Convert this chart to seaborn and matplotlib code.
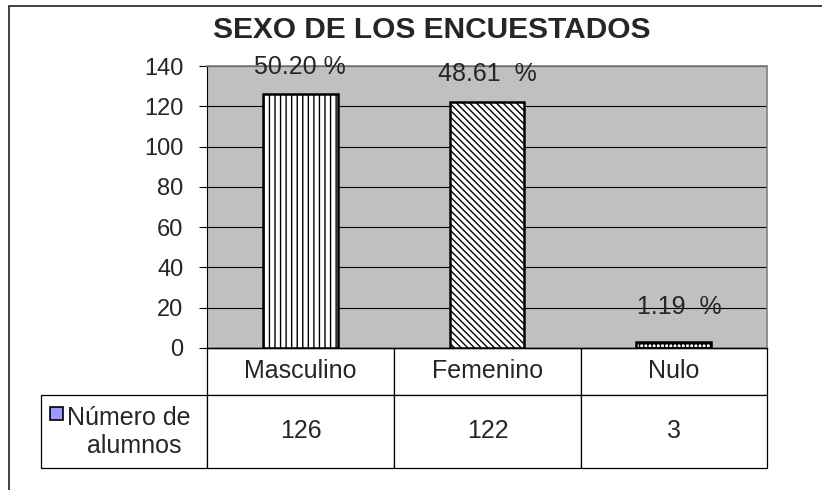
"""plot.py - SEXO DE LOS ENCUESTADOS (bar chart with data table)"""

import matplotlib
matplotlib.use("Agg")
import matplotlib.pyplot as plt
from matplotlib.patches import Rectangle
import seaborn as sns

# data
CATEGORIES = ["Masculino", "Femenino", "Nulo"]
COUNTS = [126, 122, 3]
PERCENT_LABELS = ["50.20 %", "48.61  %", "1.19  %"]
LABEL_Y = [139.5, 136, 20.5]
LABEL_DX = [0, 0, 6]  # px nudges, like the hand-moved Excel labels
SERIES_NAME = ["Número de", "alumnos"]
Y_TICKS = [0, 20, 40, 60, 80, 100, 120, 140]

HATCHES = ["|||", "\\\\\\\\\\", "++++"]

sns.set_style("white")
plt.rcParams["font.family"] = ["Liberation Sans", "DejaVu Sans"]
plt.rcParams["hatch.linewidth"] = 1.0

W, H = 822, 490
fig = plt.figure(figsize=(W / 100, H / 100), dpi=100)
fig.patch.set_facecolor("white")

# plot area (pixels: x 207-767, y 66-348)
ax = fig.add_axes([207 / W, 1 - 348 / H, 560 / W, 282 / H])
ax.set_facecolor("#C0C0C0")

sns.barplot(x=CATEGORIES, y=COUNTS, ax=ax, width=0.4, color="white",
            saturation=1, edgecolor="black", linewidth=1.8, zorder=3)
for bar, hatch in zip(ax.patches, HATCHES):
    bar.set_hatch(hatch)

ax.set_xlim(-0.5, 2.5)
ax.set_ylim(0, 140)
ax.set_yticks(Y_TICKS)
ax.tick_params(axis="y", direction="out", length=6, width=0.8, color="black",
               labelsize=17, pad=11, left=True)
ax.tick_params(axis="x", length=0, labelbottom=False)
ax.set_xlabel("")
ax.set_ylabel("")

ax.yaxis.grid(True, color="black", linewidth=0.8, zorder=1)
ax.set_axisbelow(True)

ax.spines["left"].set_color("black")
ax.spines["left"].set_linewidth(0.8)
ax.spines["bottom"].set_color("black")
ax.spines["bottom"].set_linewidth(1.0)
for side in ["top", "right"]:
    ax.spines[side].set_color("#808080")
    ax.spines[side].set_linewidth(1.2)

# percentage labels
for i, (txt, y, dx) in enumerate(zip(PERCENT_LABELS, LABEL_Y, LABEL_DX)):
    ax.annotate(txt, (i, y), xytext=(dx * 0.72, 0), textcoords="offset points",
                ha="center", va="center", fontsize=18, zorder=5,
                annotation_clip=False)

# data table under the plot
cell_text = [[""] + CATEGORIES, ["", *[str(c) for c in COUNTS]]]
table = ax.table(cellText=cell_text, cellLoc="center",
                 colWidths=[166, 187, 187, 186],
                 bbox=[-166 / 560, -120 / 282, 726 / 560, 120 / 282])
table.auto_set_font_size(False)
table.set_fontsize(18)
for (r, c), cell in table.get_celld().items():
    cell.set_height(47 if r == 0 else 73)
    cell.set_linewidth(0.9)
    cell.set_edgecolor("black")
    cell.set_facecolor("white")
    if r == 0 and c == 0:
        cell.visible_edges = ""

# row header: legend key + series name
ax.add_patch(Rectangle((-157 / 560, -72 / 282), 13 / 560, 13 / 282,
                       transform=ax.transAxes, facecolor="#9999FF",
                       edgecolor="black", linewidth=1.2, clip_on=False))
ax.text(-140 / 560, -77 / 282, SERIES_NAME[0], transform=ax.transAxes,
        ha="left", va="baseline", fontsize=18)
ax.text(-73 / 560, -105 / 282, SERIES_NAME[1], transform=ax.transAxes,
        ha="center", va="baseline", fontsize=18)

# title
fig.text(432 / W, 1 - 38 / H, "SEXO DE LOS ENCUESTADOS", ha="center",
         va="baseline", fontsize=21.5, fontweight="bold")

# chart area border (right and bottom edges are off the picture)
fig.patches.append(Rectangle((9 / W, -0.1), 1.2, 1.1 - 6 / H,
                             transform=fig.transFigure, fill=False,
                             edgecolor="#202020", linewidth=1.2))

fig.savefig("out.png", dpi=100)
